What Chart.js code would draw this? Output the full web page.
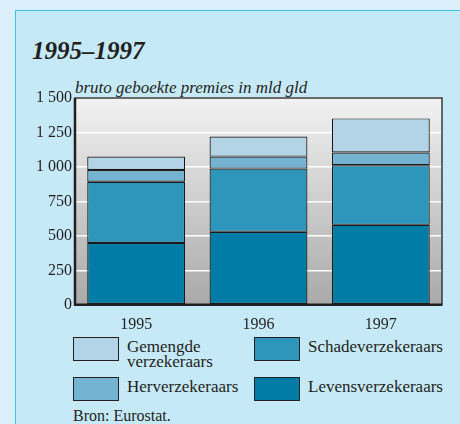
<!DOCTYPE html>
<html>
<head>
<meta charset="utf-8">
<script src="https://cdn.jsdelivr.net/npm/chart.js@4"></script>
<style>
  body { margin: 0; width: 460px; height: 424px; background: #dbf0fb; overflow: hidden; font-family: "Liberation Serif", serif; color: #231f20; }
  #panel { position: absolute; left: 15px; top: 10px; width: 460px; height: 430px; background: #c6e9f8; border: 1.5px solid #3cc0ee; }
  #title { position: absolute; left: 32px; top: 37px; font-size: 25px; font-weight: bold; font-style: italic; }
  #subtitle { position: absolute; left: 75px; top: 78px; font-size: 17px; font-style: italic; }
  #wrap { position: absolute; left: 0; top: 80px; width: 460px; height: 256px; }
  #legend { position: absolute; left: 73px; top: 337px; width: 390px; }
  .item { position: absolute; display: flex; font-size: 17px; line-height: 15px; }
  .box { width: 44px; height: 22px; border: 1px solid #231f20; margin-right: 8px; flex: none; }
  #source { position: absolute; left: 73px; top: 407px; font-size: 16px; }
</style>
</head>
<body>
<div id="panel"></div>
<div id="title">1995–1997</div>
<div id="subtitle">bruto geboekte premies in mld gld</div>
<div id="wrap"><canvas id="chart"></canvas></div>
<div id="legend"></div>
<div id="source">Bron: Eurostat.</div>
<script>
const years = ["1995", "1996", "1997"];
const levens = [449, 529, 580];
const schade = [444, 459, 432];
const herverz = [85, 87, 93];
const gemengd = [97, 146, 247];
const yTicks = [0, 250, 500, 750, 1000, 1250, 1500];

const seriesNames = ["Levensverzekeraars", "Schadeverzekeraars", "Herverzekeraars", "Gemengde verzekeraars"];
const seriesColors = ["#007ca6", "#2e96bb", "#75b3d2", "#b3d4e6"];
const seriesData = [levens, schade, herverz, gemengd];

// legend, 2 columns like the original
const legendOrder = [
  { i: 3, x: 0, y: 0, label: "Gemengde<br>verzekeraars" },
  { i: 1, x: 181, y: 0, label: "Schadeverzekeraars" },
  { i: 2, x: 0, y: 40, label: "Herverzekeraars" },
  { i: 0, x: 181, y: 40, label: "Levensverzekeraars" },
];
const legend = document.getElementById("legend");
legendOrder.forEach((l) => {
  const div = document.createElement("div");
  div.className = "item";
  div.style.left = l.x + "px";
  div.style.top = l.y + "px";
  div.innerHTML = `<div class="box" style="background:${seriesColors[l.i]}"></div><div style="padding-top:2px">${l.label}</div>`;
  legend.appendChild(div);
});

const plotBg = {
  id: "plotBg",
  beforeDraw(chart) {
    const { ctx, chartArea: a } = chart;
    const g = ctx.createLinearGradient(0, a.top, 0, a.bottom);
    g.addColorStop(0, "#f2f2f2");
    g.addColorStop(1, "#a9a9a9");
    ctx.save();
    ctx.fillStyle = g;
    ctx.fillRect(a.left, a.top, a.right - a.left, a.bottom - a.top);
    ctx.restore();
  },
  afterDraw(chart) {
    const { ctx, chartArea: a } = chart;
    ctx.save();
    ctx.strokeStyle = "#3a3a3a";
    ctx.lineWidth = 1.5;
    ctx.strokeRect(a.left, a.top, a.right - a.left, a.bottom - a.top);
    ctx.strokeStyle = "#231f20";
    ctx.lineWidth = 2.5;
    ctx.beginPath();
    ctx.moveTo(a.left, a.top);
    ctx.lineTo(a.left, a.bottom);
    ctx.lineTo(a.right, a.bottom);
    ctx.stroke();
    ctx.restore();
  },
};

new Chart(document.getElementById("chart"), {
  type: "bar",
  data: {
    labels: years,
    datasets: seriesData.map((d, i) => ({
      label: seriesNames[i],
      data: d,
      backgroundColor: seriesColors[i],
      borderColor: "#1a1a1a",
      borderWidth: 1.2,
      borderSkipped: false,
      barPercentage: 0.8,
      categoryPercentage: 1,
    })),
  },
  options: {
    responsive: true,
    maintainAspectRatio: false,
    animation: false,
    layout: { padding: { top: 18, right: 18, left: 0, bottom: 0 } },
    plugins: { legend: { display: false }, tooltip: { enabled: false } },
    scales: {
      x: {
        stacked: true,
        grid: { display: false },
        border: { display: false },
        ticks: { color: "#231f20", font: { family: "Liberation Serif", size: 16 }, padding: 2 },
      },
      y: {
        stacked: true,
        min: 0,
        max: 1500,
        afterBuildTicks(scale) { scale.ticks = yTicks.map((v) => ({ value: v })); },
        afterFit(scale) { scale.width = 75; },
        grid: { color: "#ffffff", lineWidth: 1.5, drawTicks: false },
        border: { display: false },
        ticks: {
          color: "#231f20",
          font: { family: "Liberation Serif", size: 16 },
          padding: 3,
          callback: (v) => String(v).replace(/\B(?=(\d{3})+$)/, " "),
        },
      },
    },
  },
  plugins: [plotBg],
});
</script>
</body>
</html>
